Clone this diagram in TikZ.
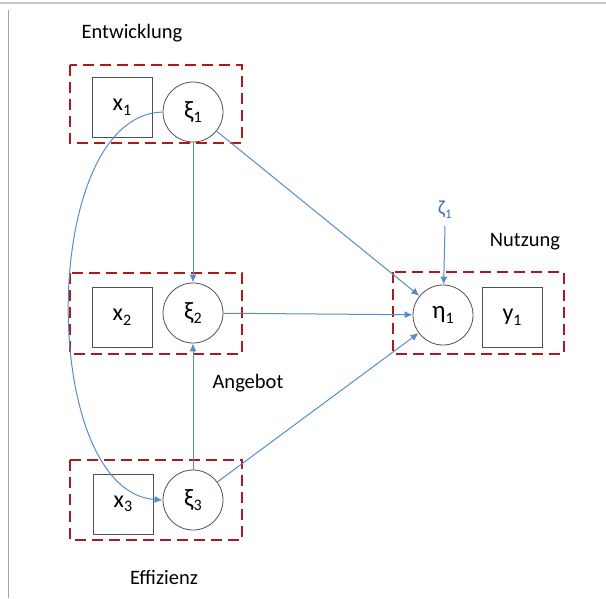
\documentclass[tikz,border=0pt]{standalone}
\usepackage{fontspec}
\setmainfont{Carlito}
\usetikzlibrary{arrows.meta}
\definecolor{arrblue}{RGB}{86,140,204}
\definecolor{zetablue}{RGB}{60,110,175}
\definecolor{dashred}{RGB}{168,28,28}
\definecolor{shapegray}{RGB}{80,80,80}
\newcommand\sbs[1]{\raisebox{-0.4ex}{\fontsize{16}{16}\selectfont #1}}
\tikzset{
  latent/.style={circle,draw=shapegray,line width=0.8pt,minimum size=60pt,inner sep=0pt,font=\fontsize{25}{28}\selectfont},
  manifest/.style={rectangle,draw=shapegray,line width=0.8pt,minimum size=60pt,inner sep=0pt,font=\fontsize{24}{28}\selectfont},
  groupbox/.style={draw=dashred,line width=2.3pt,dash pattern=on 11pt off 6pt},
  path/.style={draw=arrblue,line width=1pt,-{Latex[length=8pt,width=7pt]}},
  caption/.style={font=\fontsize{20.5}{24}\selectfont,inner sep=0pt}
}
\begin{document}
\begin{tikzpicture}[x=1pt,y=-1pt]
\useasboundingbox (0,0) rectangle (606,598);
% frame
\draw[gray!45,line width=1.2pt] (0,3) -- (606,3);
\draw[gray!70,line width=1pt] (8,10) -- (8,598);

% group boxes
\draw[groupbox] (70,65) rectangle (242,143);
\draw[groupbox] (70,273) rectangle (242,354);
\draw[groupbox] (70,460) rectangle (242,540);
\draw[groupbox] (393,272) rectangle (564,354);

% nodes
\node[manifest] (x1) at (122,107) {x\sbs{1}};
\node[latent] (xi1) at (193,112) {ξ\sbs{1}};
\node[manifest] (x2) at (122,317) {x\sbs{2}};
\node[latent] (xi2) at (193,313) {ξ\sbs{2}};
\node[manifest] (x3) at (123,504) {x\sbs{3}};
\node[latent] (xi3) at (193,500) {ξ\sbs{3}};
\node[latent] (eta) at (443,315) {η\sbs{1}};
\node[manifest] (y1) at (512,317) {y\sbs{1}};
\node[font=\fontsize{20}{22}\selectfont,text=zetablue,inner sep=1pt] (zeta) at (445,210) {ζ\raisebox{-0.4ex}{\fontsize{13}{13}\selectfont 1}};
\coordinate (zetaend) at (445,226);

% captions
\node[caption] (lentw) at (132,33) {Entwicklung};
\node[caption] (lnutz) at (525,242) {Nutzung};
\node[caption] (langeb) at (248,383) {Angebot};
\node[caption] (leffiz) at (164,577) {Effizienz};

% connectors
\draw[path] (xi1) -- (xi2);
\draw[path] (xi3) -- (xi2);
\draw[path] (xi1) -- (eta);
\draw[path] (xi2) -- (eta);
\draw[path] (xi3) -- (eta);
\draw[path] (zetaend) -- (eta);
\draw[path] (xi1.west) .. controls (38,115) and (38,492) .. (xi3.west);
\end{tikzpicture}
\end{document}
